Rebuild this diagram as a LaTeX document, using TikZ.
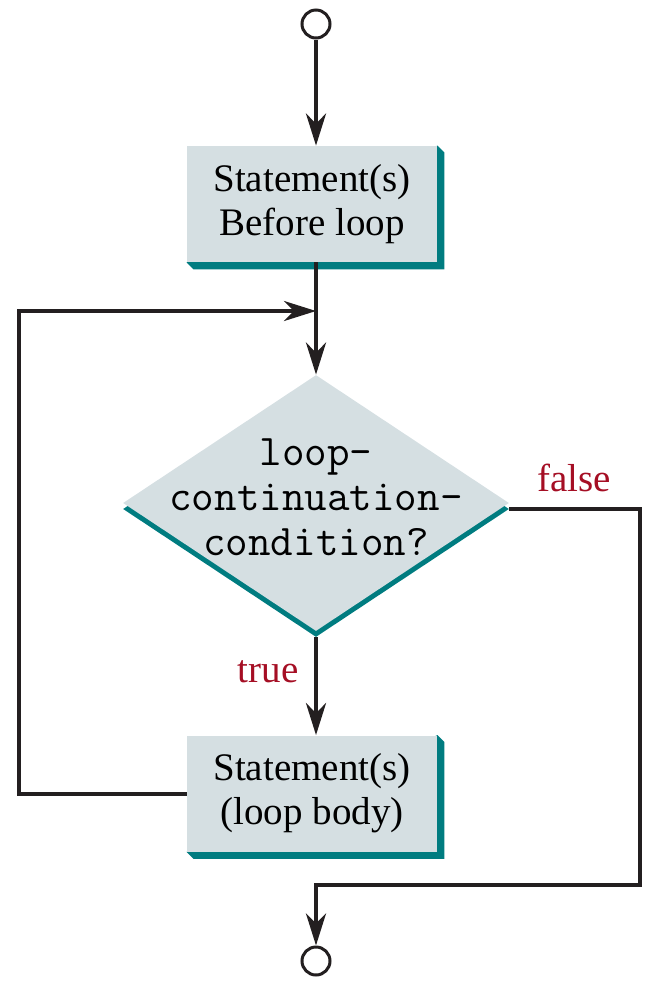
\documentclass[tikz,border=0pt]{standalone}
\usepackage{fontspec}
\setmainfont{Liberation Serif}
\usetikzlibrary{arrows.meta,shapes.geometric,backgrounds}

\definecolor{boxfill}{HTML}{D5DFE2}
\definecolor{shadowcol}{HTML}{007C80}
\definecolor{linecol}{HTML}{231F20}
\definecolor{labelcol}{HTML}{A50E24}

\begin{document}
\begin{tikzpicture}[
        x=0.5pt, y=-0.5pt,
        stmt/.style={fill=boxfill, inner sep=0pt, align=center, minimum width=125pt, minimum height=58pt,
            font=\fontsize{19.5}{22}\selectfont},
        decision/.style={diamond, fill=boxfill, inner sep=0pt, minimum width=193pt, minimum height=128pt},
        condtext/.style={align=center, font=\ttfamily\fontsize{21.9}{22.5}\selectfont},
        terminal/.style={circle, draw=linecol, line width=1.5pt, fill=white, minimum size=14pt, inner sep=0pt},
        branch/.style={text=labelcol, font=\fontsize{19.5}{22}\selectfont},
        arrow/.style={-{Stealth[length=16pt, width=10pt, inset=5pt]}, line width=2pt, draw=linecol}
    ]
    \useasboundingbox (0,0) rectangle (664,981);

    % --- Start / end ---
    \node[terminal] (start) at (316,24) {};
    \node[terminal] (finish) at (316,961) {};

    % --- Statements ---
    \node[stmt] (prep) at (312,204) {Statement(s)\\Before loop};
    \node[stmt] (body) at (312,793.5) {Statement(s)\\(loop body)};

    % --- Condition ---
    \node[decision, fill=shadowcol] (condshadow) at (316,509) {};
    \node[decision] (cond) at (316,503) {};
    \node[condtext] (condlabel) at (316,497) {loop-\\continuation-\\condition?};

    % --- Shadows ---
    \begin{pgfonlayer}{background}
        \foreach \b in {prep, body}
            \fill[shadowcol] (\b.north east) -- ++(7,7) -- ([shift={(7,7)}]\b.south east)
                -- ([shift={(7,7)}]\b.south west) -- (\b.south west) -- cycle;
    \end{pgfonlayer}

    % --- Branch labels ---
    \node[branch] (truelabel) at (268,672) {true};
    \node[branch] (falselabel) at (574,478) {false};

    \coordinate (join) at (316,311);
    \coordinate (exit) at (640,885);

    % --- Connections ---
    \draw[arrow] (start) -- (start |- prep.north);
    \draw[arrow] (start |- prep.south) -- (cond.north);
    \draw[arrow] (condshadow.south) -- (start |- body.north);
    \draw[arrow] (body.west) -- ++(-168,0) |- (join);
    \draw[arrow] (condshadow.east) -| (exit) -| (finish.north);

\end{tikzpicture}
\end{document}
